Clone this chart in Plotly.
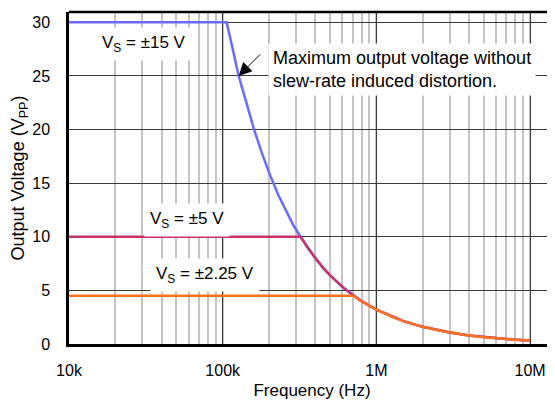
import numpy as np
import plotly.graph_objects as go

# Frequency (Hz) and output voltage (Vpp)
freq_15 = [10e3, 106e3, 115e3, 127e3, 140e3, 160e3, 180e3, 200e3, 230e3, 260e3, 290e3, 321e3,
           360e3, 400e3, 450e3, 500e3, 600e3, 700e3, 800e3, 1e6, 1.5e6, 2e6, 3e6, 4e6, 5e6, 7e6, 10e6]
vpp_15 = [30, 30, 27.8, 25.0, 22.9, 20.0, 17.8, 16.0, 13.9, 12.3, 11.0, 10.0,
          8.9, 8.0, 7.1, 6.4, 5.33, 4.57, 4.0, 3.2, 2.13, 1.6, 1.07, 0.8, 0.64, 0.46, 0.32]

freq_5 = [10e3, 321e3, 360e3, 400e3, 450e3, 500e3, 560e3, 620e3, 700e3, 800e3, 1e6, 1.5e6,
          2e6, 3e6, 4e6, 5e6, 7e6, 10e6]
vpp_5 = [10, 10, 8.9, 8.0, 7.1, 6.4, 5.7, 5.16, 4.57, 4.0, 3.2, 2.13,
         1.6, 1.07, 0.8, 0.64, 0.46, 0.32]

freq_225 = [10e3, 705e3, 760e3, 820e3, 900e3, 1e6, 1.15e6, 1.3e6, 1.5e6, 1.75e6, 2e6, 2.5e6,
            3e6, 3.5e6, 4e6, 5e6, 6e6, 7e6, 8e6, 9e6, 10e6]
vpp_225 = [4.5, 4.5, 4.2, 3.9, 3.55, 3.2, 2.78, 2.46, 2.13, 1.83, 1.6, 1.28,
           1.07, 0.91, 0.8, 0.64, 0.53, 0.46, 0.4, 0.36, 0.32]

series = [
    ("V<sub>S</sub> = ±15 V", freq_15, vpp_15, "#6b6bff"),
    ("V<sub>S</sub> = ±5 V", freq_5, vpp_5, "#c8336a"),
    ("V<sub>S</sub> = ±2.25 V", freq_225, vpp_225, "#ff7020"),
]

x_ticks = [1e4, 1e5, 1e6, 1e7]
x_ticklabels = ["10k", "100k", "1M", "10M"]
y_ticks = [0, 5, 10, 15, 20, 25, 30]

FONT = "Liberation Sans, Arial, sans-serif"

fig = go.Figure()
for name, f, v, c in series:
    fig.add_trace(go.Scatter(x=f, y=v, mode="lines", name=name,
                             line=dict(color=c, width=2.5), showlegend=False,
                             hoverinfo="skip"))

# page body adds an 8px offset, so the figure is 547x402
fig.update_layout(
    width=547, height=402,
    margin=dict(l=61, r=0, t=4, b=66),
    paper_bgcolor="white", plot_bgcolor="white",
    font=dict(family=FONT, size=16, color="black"),
)

fig.update_xaxes(
    type="log", range=[4, 7.162], automargin=False,
    tickvals=x_ticks, ticktext=x_ticklabels,
    showgrid=True, gridcolor="#3a3a3a", gridwidth=1,
    minor=dict(dtick="D1", showgrid=True, gridcolor="#c4c4c4", gridwidth=2, ticks=""),
    showline=True, linecolor="black", linewidth=2.5,
    ticks="", ticklabelstandoff=10,
    tickfont=dict(size=16),
    title=dict(text="Frequency (Hz)", font=dict(size=17), standoff=7),
    zeroline=False,
)
fig.update_yaxes(
    range=[0, 30.96], automargin=False,
    tickvals=y_ticks,
    showgrid=True, gridcolor="#3a3a3a", gridwidth=1,
    showline=True, linecolor="black", linewidth=2.5,
    ticks="", ticklabelstandoff=13,
    tickfont=dict(size=16),
    title=dict(text="Output Voltage (V<sub>PP</sub>)", font=dict(size=18), standoff=9),
    zeroline=False,
)

# top border
fig.add_shape(type="line", xref="paper", yref="paper", x0=0, x1=1, y0=1, y1=1,
              line=dict(color="black", width=2.5))

lab_font = dict(family=FONT, size=17, color="black")
fig.add_annotation(x=np.log10(3.08e4), y=28.0, text="V<sub>S</sub> = ±15 V", showarrow=False,
                   bgcolor="white", borderpad=5, font=lab_font)
fig.add_annotation(x=np.log10(5.9e4), y=11.56, text="V<sub>S</sub> = ±5 V", showarrow=False,
                   bgcolor="white", borderpad=5, font=lab_font)
fig.add_annotation(x=np.log10(7.67e4), y=6.43, text="V<sub>S</sub> = ±2.25 V", showarrow=False,
                   bgcolor="white", borderpad=5, font=lab_font)

fig.add_annotation(x=5.295, y=25.63, xanchor="left", yanchor="middle", align="left",
                   text="Maximum output voltage without<br>slew-rate induced distortion.",
                   showarrow=False, bgcolor="white", borderpad=4,
                   font=dict(family=FONT, size=18, color="black"))
fig.add_annotation(x=np.log10(1.27e5), y=25, ax=23, ay=-23, text="", showarrow=True,
                   arrowhead=2, arrowsize=2.6, arrowwidth=1, arrowcolor="black")

fig.write_html("out.html")
